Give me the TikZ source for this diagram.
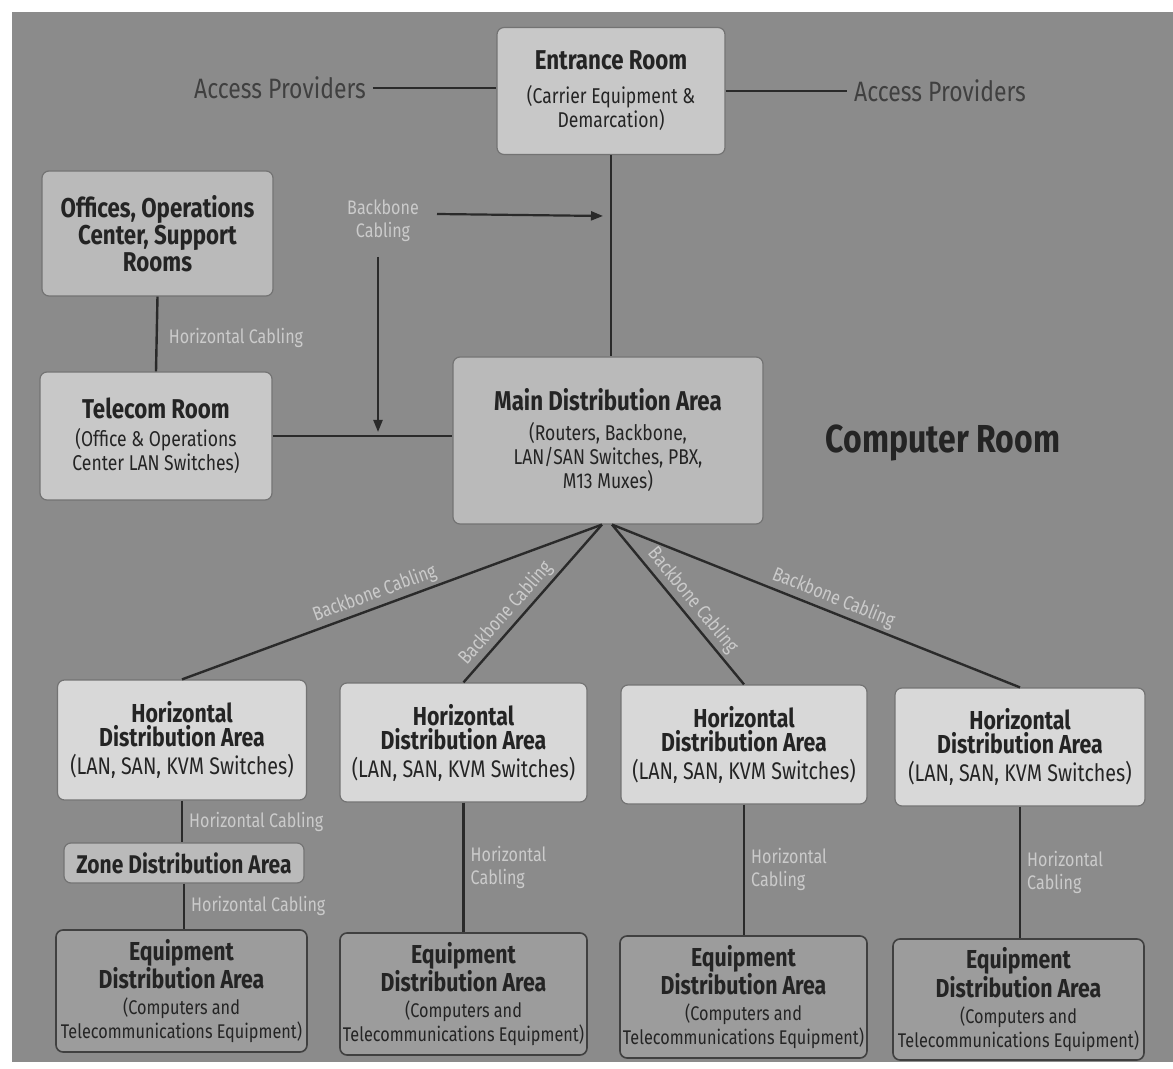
\documentclass[tikz,border=0pt]{standalone}
\usepackage{fontspec}
\setmainfont{Fira Sans}[FakeStretch=0.82]
\usetikzlibrary{arrows.meta}

\definecolor{paper}{HTML}{8B8B8B}
\definecolor{boxlight}{HTML}{D8D8D8}
\definecolor{boxmid}{HTML}{C8C8C8}
\definecolor{boxdark}{HTML}{BABABA}
\definecolor{boxequip}{HTML}{9C9C9C}
\definecolor{ink}{HTML}{242424}
\definecolor{wire}{HTML}{2A2A2A}
\definecolor{cablelbl}{HTML}{CBCBCB}

\newcommand{\ttlfont}{\fontsize{13.6}{13.8}\selectfont\bfseries}
\newcommand{\ttlsmall}{\fontsize{13}{14}\selectfont\bfseries}
\newcommand{\subfont}{\fontsize{10.7}{12.5}\selectfont}
\newcommand{\ersubfont}{\fontsize{10.7}{13.2}\selectfont}
\newcommand{\hdasubfont}{\fontsize{12}{13}\selectfont}
\newcommand{\eqsubfont}{\fontsize{9.9}{11.2}\selectfont}
\newcommand{\cablefont}{\fontsize{9.8}{11.5}\selectfont}

\tikzset{
  room/.style={draw=black!55, line width=0.6pt, rounded corners=3.5pt,
    align=center, inner sep=0pt, text=ink},
  equip/.style={room, fill=boxequip, draw=black!75, line width=0.8pt},
  link/.style={draw=wire, line width=1.2pt},
  cablelabel/.style={text=cablelbl, font=\cablefont, inner sep=1.5pt},
  provider/.style={text=black!75, font=\fontsize{14}{15}\selectfont},
  tip/.style={-{Triangle[length=6pt,width=4.5pt]}},
}

\begin{document}
\begin{tikzpicture}[x=0.5pt,y=-0.5pt]
  % page and grey sheet
  \useasboundingbox (0,0) rectangle (1173,1069);
  \fill[white] (0,0) rectangle (1173,1069);
  \fill[paper] (12,12) rectangle (1173,1062);

  % rooms
  \node[room, fill=boxmid, minimum width=114pt, minimum height=63.5pt] (er) at (611,91)
    {\ttlfont Entrance Room\\[5pt]\ersubfont (Carrier Equipment \&\\ \ersubfont Demarcation)};
  \node[room, fill=boxdark, minimum width=115.5pt, minimum height=62.5pt] (off) at (157.5,233.5)
    {\ttlfont Offices, Operations\\ \ttlfont Center, Support\\ \ttlfont Rooms};
  \node[room, fill=boxmid, minimum width=116pt, minimum height=64pt] (tr) at (156,436)
    {\ttlfont Telecom Room\\[2pt]\subfont (Office \& Operations\\ \subfont Center LAN Switches)};
  \node[room, fill=boxdark, minimum width=155pt, minimum height=83.5pt] (mda) at (608,440.5)
    {\ttlfont Main Distribution Area\\[3pt]\subfont (Routers, Backbone,\\ \subfont LAN/SAN Switches, PBX,\\ \subfont M13 Muxes)};

  \node[room, fill=boxlight, minimum width=124.5pt, minimum height=60pt] (hda1) at (182,740)
    {\ttlsmall Horizontal\\ \ttlsmall Distribution Area\\[2pt]\hdasubfont (LAN, SAN, KVM Switches)};
  \node[room, fill=boxlight, minimum width=123.5pt, minimum height=59.5pt] (hda2) at (463.5,742.5)
    {\ttlsmall Horizontal\\ \ttlsmall Distribution Area\\[2pt]\hdasubfont (LAN, SAN, KVM Switches)};
  \node[room, fill=boxlight, minimum width=123pt, minimum height=59.5pt] (hda3) at (744,744.5)
    {\ttlsmall Horizontal\\ \ttlsmall Distribution Area\\[2pt]\hdasubfont (LAN, SAN, KVM Switches)};
  \node[room, fill=boxlight, minimum width=125pt, minimum height=59pt] (hda4) at (1020,747)
    {\ttlsmall Horizontal\\ \ttlsmall Distribution Area\\[2pt]\hdasubfont (LAN, SAN, KVM Switches)};

  \node[room, fill=boxdark, minimum width=120pt, minimum height=20pt] (zda) at (184,863)
    {\fontsize{12.8}{14}\selectfont\bfseries Zone Distribution Area};

  \node[equip, minimum width=125.5pt, minimum height=61pt] (eda1) at (181.5,991)
    {\ttlsmall Equipment\\ \ttlsmall Distribution Area\\[1pt]\eqsubfont (Computers and\\ \eqsubfont Telecommunications Equipment)};
  \node[equip, minimum width=123.5pt, minimum height=61pt] (eda2) at (463.5,994)
    {\ttlsmall Equipment\\ \ttlsmall Distribution Area\\[1pt]\eqsubfont (Computers and\\ \eqsubfont Telecommunications Equipment)};
  \node[equip, minimum width=123.5pt, minimum height=61pt] (eda3) at (743.5,997)
    {\ttlsmall Equipment\\ \ttlsmall Distribution Area\\[1pt]\eqsubfont (Computers and\\ \eqsubfont Telecommunications Equipment)};
  \node[equip, minimum width=125.5pt, minimum height=60.5pt] (eda4) at (1018.5,999.5)
    {\ttlsmall Equipment\\ \ttlsmall Distribution Area\\[1pt]\eqsubfont (Computers and\\ \eqsubfont Telecommunications Equipment)};

  % free labels
  \node[provider] (apl) at (280,88) {Access Providers};
  \node[provider] (apr) at (940,91) {Access Providers};
  \node[text=ink, font=\fontsize{19.5}{21}\selectfont\bfseries] (cr) at (943,443) {Computer Room};
  \node[cablelabel, align=center] (bbl) at (383,221) {Backbone\\Cabling};

  % access provider feeds
  \draw[link] (apl.east) -- (apl.east -| er.west);
  \draw[link] (er.east |- apr.west) -- (apr.west);

  % backbone from entrance room to MDA
  \draw[link] (er.south) -- (er.south |- mda.north);

  % offices to telecom room
  \draw[link] (off.south) -- node[cablelabel, right, xshift=4pt, pos=0.55] {Horizontal Cabling} (tr.north);
  % telecom room to MDA
  \draw[link] (tr.east) -- (mda.west |- tr.east);

  % backbone direction arrows
  \coordinate (arA0) at (437,214);
  \coordinate (arA1) at (603,216);
  \coordinate (arB0) at (378,257);
  \coordinate (arB1) at (378,432);
  \draw[link, line width=1.1pt, tip] (arA0) -- (arA1);
  \draw[link, line width=1.1pt, tip] (arB0) -- (arB1);

  % backbone cabling from MDA to the horizontal distribution areas
  \coordinate (mdaL) at ([xshift=-3pt]mda.south);
  \coordinate (mdaR) at ([xshift=2pt]mda.south);
  \draw[link] (mdaL) -- node[cablelabel, sloped, above, pos=0.53] {Backbone Cabling} (hda1.north);
  \draw[link] (mdaL) -- node[cablelabel, sloped, above, pos=0.62] {Backbone Cabling} (hda2.north);
  \draw[link] (mdaR) -- node[cablelabel, sloped, above, pos=0.53] {Backbone Cabling} (hda3.north);
  \draw[link] (mdaR) -- node[cablelabel, sloped, above, pos=0.53] {Backbone Cabling} (hda4.north);

  % horizontal cabling down to the equipment areas
  \draw[link] (hda1.south) -- node[cablelabel, right, xshift=1.5pt, pos=0.5] {Horizontal Cabling} (hda1.south |- zda.north);
  \draw[link] (zda.south) -- node[cablelabel, right, xshift=1.5pt, pos=0.5] {Horizontal Cabling} (zda.south |- eda1.north);
  \draw[link] (hda2.south) -- node[cablelabel, right, xshift=1.5pt, align=left, pos=0.5] {Horizontal\\Cabling} (hda2.south |- eda2.north);
  \draw[link] (hda3.south) -- node[cablelabel, right, xshift=1.5pt, align=left, pos=0.5] {Horizontal\\Cabling} (hda3.south |- eda3.north);
  \draw[link] (hda4.south) -- node[cablelabel, right, xshift=1.5pt, align=left, pos=0.5] {Horizontal\\Cabling} (hda4.south |- eda4.north);
\end{tikzpicture}
\end{document}
